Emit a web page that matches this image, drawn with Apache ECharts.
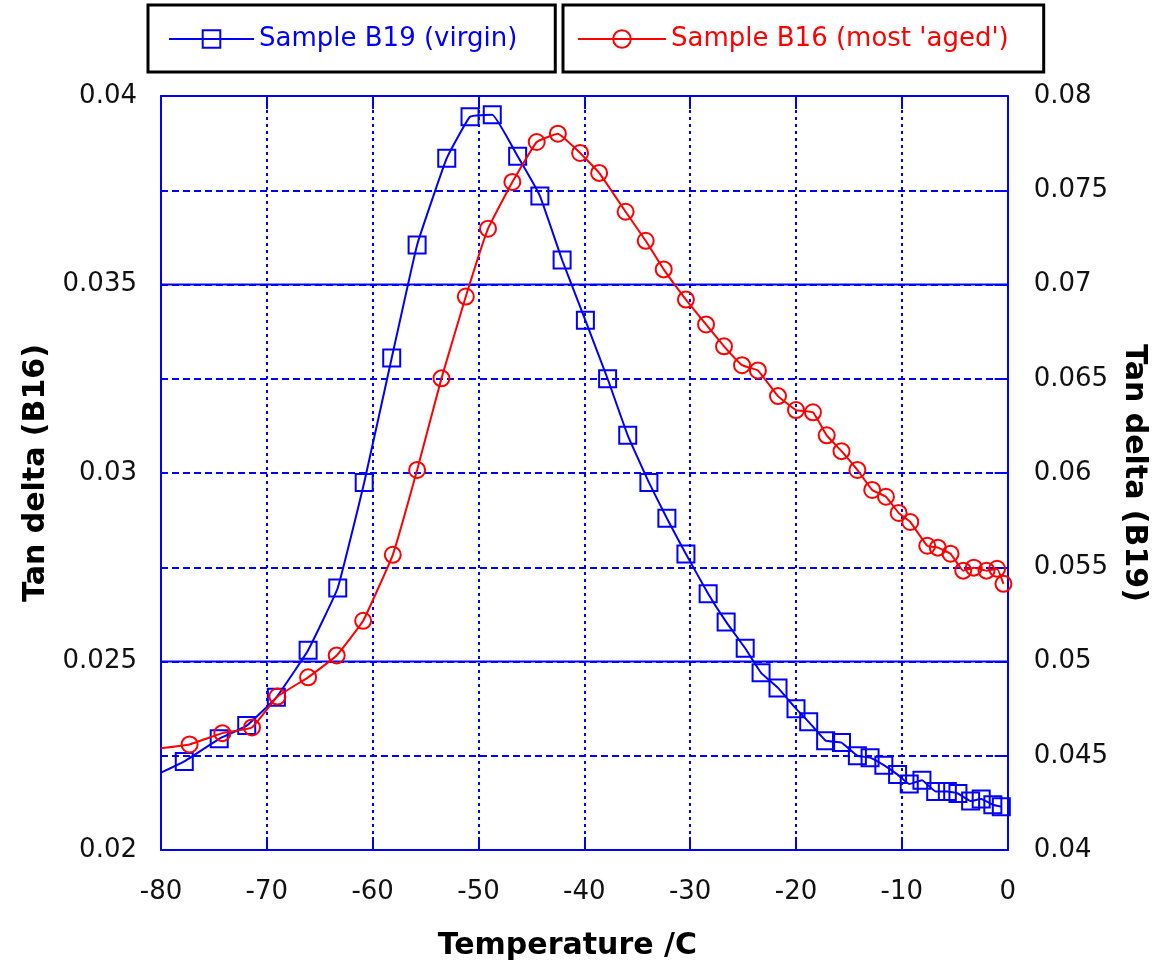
<!DOCTYPE html>
<html>
<head>
<meta charset="utf-8">
<script src="https://cdn.jsdelivr.net/npm/echarts@6/dist/echarts.min.js"></script>
<style>
html,body{margin:0;padding:0;background:#fff;}
#chart{width:1157px;height:966px;}
</style>
</head>
<body>
<div id="chart"></div>
<script>
// ---- Data ----
// First entry of each series is where the curve enters at the left edge (-80), drawn without a marker.
const tempB19 = [-80, -77.8, -74.5, -71.9, -69.1, -66.1, -63.3, -60.8, -58.2, -55.8, -53.0, -50.8, -48.7, -46.3, -44.2, -42.1, -39.9, -37.8, -35.9, -33.9, -32.2, -30.4, -28.3, -26.6, -24.8, -23.3, -21.7, -20.0, -18.8, -17.2, -15.7, -14.2, -13.0, -11.7, -10.4, -9.3, -8.1, -6.8, -5.7, -4.7, -3.5, -2.5, -1.4, -0.6];
const valB19  = [0.0441, 0.0447, 0.0459, 0.0466, 0.0481, 0.0506, 0.0539, 0.0595, 0.0661, 0.0721, 0.0767, 0.0789, 0.0790, 0.0768, 0.0747, 0.0713, 0.0681, 0.0650, 0.0620, 0.0595, 0.0576, 0.0557, 0.0536, 0.0521, 0.0507, 0.0494, 0.0486, 0.0475, 0.0468, 0.0458, 0.0457, 0.0450, 0.0449, 0.0445, 0.0440, 0.0435, 0.0437, 0.0431, 0.0431, 0.0430, 0.0426, 0.0427, 0.0424, 0.0423];

const tempB16 = [-80, -77.3, -74.2, -71.4, -69.0, -66.1, -63.4, -60.9, -58.1, -55.8, -53.5, -51.2, -49.1, -46.8, -44.5, -42.5, -40.4, -38.6, -36.1, -34.2, -32.5, -30.4, -28.5, -26.8, -25.1, -23.6, -21.7, -20.0, -18.4, -17.1, -15.7, -14.2, -12.8, -11.5, -10.3, -9.2, -7.6, -6.6, -5.4, -4.2, -3.2, -2.0, -1.0, -0.4];
const valB16  = [0.0227, 0.0228, 0.0231, 0.02325, 0.02407, 0.02458, 0.02516, 0.02608, 0.02783, 0.03008, 0.03251, 0.03468, 0.03648, 0.03772, 0.03878, 0.0390, 0.03849, 0.03796, 0.03693, 0.03616, 0.0354, 0.0346, 0.03394, 0.03336, 0.03286, 0.03272, 0.03204, 0.03167, 0.03161, 0.0310, 0.03058, 0.03008, 0.02955, 0.02937, 0.02894, 0.0287, 0.02807, 0.02802, 0.02786, 0.02741, 0.02749, 0.02741, 0.02746, 0.02706];

const nameB19 = 'Sample B19 (virgin)';
const nameB16 = "Sample B16 (most 'aged')";
const xTitle = 'Temperature /C';
const yLeftTitle = 'Tan delta (B16)';
const yRightTitle = 'Tan delta (B19)';
const xRange = [-80, 0, 10];
const yLeftRange = [0.02, 0.04, 0.005];
const yRightRange = [0.04, 0.08, 0.005];
const solidGridValues = [0.025, 0.035]; // left-axis values that carry solid grid lines

// ---- Styling ----
const BLUE = '#0000ff';
const RED = '#ff0000';
const FONT = 'DejaVu Sans';

function toPoints(xs, ys) {
  return xs.map((x, i) => i === 0 ? { value: [x, ys[i]], symbol: 'none' } : [x, ys[i]]);
}
function fmt(v) { return String(+v.toFixed(4)); }

const gridSeries = solidGridValues.map(v => ({
  type: 'line', xAxisIndex: 0, yAxisIndex: 0, silent: true,
  data: [[xRange[0], v], [xRange[1], v]],
  symbol: 'none', lineStyle: { color: BLUE, width: 2, type: 'solid' },
  emphasis: { disabled: true }, tooltip: { show: false }, z: 1
}));

const chart = echarts.init(document.getElementById('chart'), null, { renderer: 'canvas' });
chart.setOption({
  animation: false,
  backgroundColor: '#fff',
  grid: { left: 161, right: 148, top: 96, bottom: 114, containLabel: false },
  legend: [
    {
      data: [{ name: nameB19 }],
      left: 148, top: 5,
      itemWidth: 85, itemHeight: 22,
      padding: [21, 38, 20, 20],
      borderColor: '#000', borderWidth: 3,
      textStyle: { color: BLUE, fontSize: 26, fontFamily: FONT }
    },
    {
      data: [{ name: nameB16 }],
      left: 563, top: 5,
      itemWidth: 88, itemHeight: 22,
      padding: [21, 35, 20, 14],
      borderColor: '#000', borderWidth: 3,
      textStyle: { color: RED, fontSize: 26, fontFamily: FONT }
    }
  ],
  xAxis: [
    {
      type: 'value', position: 'bottom',
      min: xRange[0], max: xRange[1], interval: xRange[2],
      name: xTitle, nameLocation: 'middle', nameGap: 81,
      nameTextStyle: { fontFamily: FONT, fontSize: 30, fontWeight: 'bold', color: '#000', padding: [0, 34, 0, 0] },
      axisLine: { show: true, onZero: false, lineStyle: { color: BLUE, width: 2 } },
      axisTick: { show: true, inside: true, length: 13, lineStyle: { color: BLUE, width: 2 } },
      axisLabel: { margin: 29, fontFamily: FONT, fontSize: 26, color: '#111' },
      splitLine: { show: true, lineStyle: { color: BLUE, width: 2, type: [3, 4] } }
    },
    {
      type: 'value', position: 'top',
      min: xRange[0], max: xRange[1], interval: xRange[2],
      axisLine: { show: true, onZero: false, lineStyle: { color: BLUE, width: 2 } },
      axisTick: { show: true, inside: true, length: 13, lineStyle: { color: BLUE, width: 2 } },
      axisLabel: { show: false },
      splitLine: { show: false }
    }
  ],
  yAxis: [
    {
      type: 'value', position: 'left',
      min: yLeftRange[0], max: yLeftRange[1], interval: yLeftRange[2],
      name: yLeftTitle, nameLocation: 'middle', nameGap: 106, nameRotate: 90,
      nameTextStyle: { fontFamily: FONT, fontSize: 30, fontWeight: 'bold', color: '#000' },
      axisLine: { show: true, onZero: false, lineStyle: { color: BLUE, width: 2 } },
      axisTick: { show: false },
      axisLabel: { margin: 24, fontFamily: FONT, fontSize: 26, color: '#111', formatter: fmt },
      splitLine: { show: false }
    },
    {
      type: 'value', position: 'right',
      min: yRightRange[0], max: yRightRange[1], interval: yRightRange[2],
      name: yRightTitle, nameLocation: 'middle', nameGap: 108, nameRotate: -90,
      nameTextStyle: { fontFamily: FONT, fontSize: 30, fontWeight: 'bold', color: '#000' },
      axisLine: { show: true, onZero: false, lineStyle: { color: BLUE, width: 2 } },
      axisTick: { show: true, inside: true, length: 13, lineStyle: { color: BLUE, width: 2 } },
      axisLabel: { margin: 26, fontFamily: FONT, fontSize: 26, color: '#111', formatter: fmt },
      splitLine: { show: true, lineStyle: { color: BLUE, width: 2, type: [7, 4] } }
    }
  ],
  series: gridSeries.concat([
    {
      name: nameB19, type: 'line', xAxisIndex: 0, yAxisIndex: 1,
      data: toPoints(tempB19, valB19),
      smooth: 0.1, clip: true,
      symbol: 'rect', symbolSize: 17,
      lineStyle: { color: BLUE, width: 2 },
      itemStyle: { color: 'rgba(255,255,255,0)', borderColor: BLUE, borderWidth: 2 },
      z: 3
    },
    {
      name: nameB16, type: 'line', xAxisIndex: 0, yAxisIndex: 0,
      data: toPoints(tempB16, valB16),
      smooth: 0.1, clip: true,
      symbol: 'circle', symbolSize: 16,
      lineStyle: { color: RED, width: 2 },
      itemStyle: { color: 'rgba(255,255,255,0)', borderColor: RED, borderWidth: 2 },
      z: 4
    }
  ])
});
</script>
</body>
</html>
